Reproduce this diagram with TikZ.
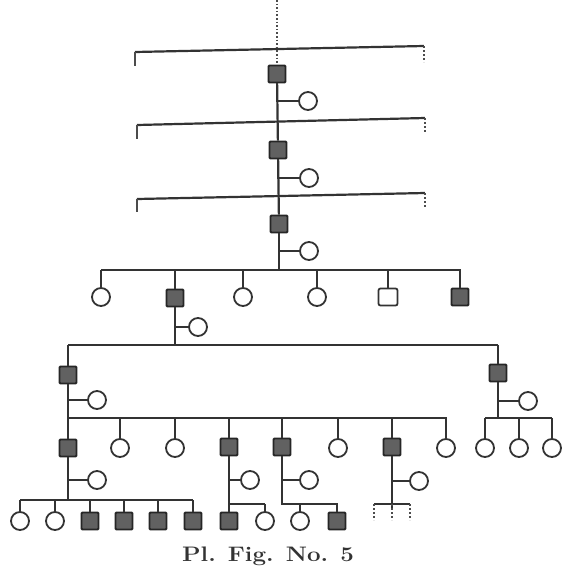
\documentclass[tikz,border=0pt]{standalone}
\begin{document}
\begin{tikzpicture}[x=1pt,y=-1pt,
  ln/.style={draw=black!80,line width=2.2pt},
  aff/.style={draw=black!85,fill=black!62,line width=1.8pt,minimum width=17pt,minimum height=17pt,inner sep=0pt,rounded corners=1pt},
  male/.style={draw=black!80,fill=white,line width=1.8pt,minimum width=19pt,minimum height=17pt,inner sep=0pt,rounded corners=2pt},
  fem/.style={circle,draw=black!80,fill=white,line width=1.8pt,minimum size=18pt,inner sep=0pt},
  tick/.style={draw=black!70,line width=1.8pt},
  dtick/.style={draw=black!70,line width=2pt,dotted}]
\useasboundingbox (0,0) rectangle (566,576);
% ancestral line with brackets
\coordinate (top) at (277,0);
\coordinate (b1l) at (135,52); \coordinate (b1r) at (424,46);
\coordinate (b2l) at (137,125); \coordinate (b2r) at (425,118);
\coordinate (b3l) at (137,199); \coordinate (b3r) at (425,193);
\draw[ln] (b1l) -- (b1r);
\draw[ln] (b2l) -- (b2r);
\draw[ln] (b3l) -- (b3r);
\draw[tick] (b1l) -- ++(0,14); \draw[dtick] (b1r) -- ++(0,16);
\draw[tick] (b2l) -- ++(0,14); \draw[dtick] (b2r) -- ++(0,14);
\draw[tick] (b3l) -- ++(0,13); \draw[dtick] (b3r) -- ++(0,15);
\node[aff] (g1) at (277,74) {};
\node[fem] (w1) at (308,101) {};
\node[aff] (g2) at (278,150) {};
\node[fem] (w2) at (309,178) {};
\node[aff] (g3) at (279,224) {};
\node[fem] (w3) at (309,251) {};
\draw[draw=black!70,line width=1.6pt,dotted] (top) -- (g1.north);
\draw[ln] (g1) -- (g2);
\draw[ln] (g2) -- (g3);
\draw[ln] (g1) |- (w1);
\draw[ln] (g2) |- (w2);
\draw[ln] (g3) |- (w3);
% generation of g3's children
\coordinate (s1l) at (101,270); \coordinate (s1r) at (461,270);
\draw[ln] (s1l) -- (s1r);
\draw[ln] (g3) -- (g3 |- s1l);
\node[fem] (c1) at (101,297) {};
\node[aff] (c2) at (175,298) {};
\node[fem] (c3) at (243,297) {};
\node[fem] (c4) at (317,297) {};
\node[male] (c5) at (388,297) {};
\node[aff] (c6) at (460,297) {};
\foreach \n in {c1,c2,c3,c4,c5,c6} \draw[ln] (\n.north) -- (\n.north |- s1l);
\node[fem] (w4) at (198,327) {};
\draw[ln] (c2) |- (w4);
\coordinate (s2l) at (68,345); \coordinate (s2r) at (498,345);
\draw[ln] (s2l) -- (s2r);
\draw[ln] (c2) -- (c2 |- s2l);
\node[aff] (d1) at (68,375) {};
\node[aff] (d2) at (498,373) {};
\foreach \n in {d1,d2} \draw[ln] (\n.north) -- (\n.north |- s2l);
\node[fem] (w5) at (97,400) {};
\node[fem] (w6) at (528,401) {};
\draw[ln] (d1) |- (w5);
\draw[ln] (d2) |- (w6);
% d1's children
\coordinate (s3l) at (68,418); \coordinate (s3r) at (447,418);
\draw[ln] (s3l) -- (s3r);
\draw[ln] (d1) -- (d1 |- s3l);
\node[aff] (e1) at (68,448) {};
\node[fem] (e2) at (120,448) {};
\node[fem] (e3) at (175,448) {};
\node[aff] (e4) at (229,447) {};
\node[aff] (e5) at (282,447) {};
\node[fem] (e6) at (338,448) {};
\node[aff] (e7) at (392,447) {};
\node[fem] (e8) at (446,448) {};
\foreach \n in {e1,e2,e3,e4,e5,e6,e7,e8} \draw[ln] (\n.north) -- (\n.north |- s3l);
% d2's children
\coordinate (s4l) at (485,418); \coordinate (s4r) at (552,418);
\draw[ln] (s4l) -- (s4r);
\draw[ln] (d2) -- (d2 |- s4l);
\node[fem] (f1) at (485,448) {};
\node[fem] (f2) at (519,448) {};
\node[fem] (f3) at (552,448) {};
\foreach \n in {f1,f2,f3} \draw[ln] (\n.north) -- (\n.north |- s4l);
% spouses of third row
\node[fem] (w7) at (97,480) {};
\node[fem] (w8) at (250,480) {};
\node[fem] (w9) at (309,480) {};
\node[fem] (w10) at (419,481) {};
\draw[ln] (e1) |- (w7);
\draw[ln] (e4) |- (w8);
\draw[ln] (e5) |- (w9);
\draw[ln] (e7) |- (w10);
% e1's children
\coordinate (s5l) at (20,500); \coordinate (s5r) at (193,500);
\draw[ln] (s5l) -- (s5r);
\draw[ln] (e1) -- (e1 |- s5l);
\node[fem] (h1) at (20,521) {};
\node[fem] (h2) at (55,521) {};
\node[aff] (h3) at (90,521) {};
\node[aff] (h4) at (124,521) {};
\node[aff] (h5) at (158,521) {};
\node[aff] (h6) at (193,521) {};
\foreach \n in {h1,h2,h3,h4,h5,h6} \draw[ln] (\n.north) -- (\n.north |- s5l);
% e4's children
\coordinate (s6r) at (265,504);
\node[aff] (k1) at (229,521) {};
\node[fem] (k2) at (265,521) {};
\draw[ln] (e4) -- (k1);
\draw[ln] (e4 |- s6r) -- (s6r);
\draw[ln] (k2.north) -- (k2.north |- s6r);
% e5's children
\coordinate (s7r) at (338,504);
\node[fem] (k3) at (300,521) {};
\node[aff] (k4) at (337,521) {};
\draw[ln] (e5) -- (e5 |- s7r) -- (s7r);
\foreach \n in {k3,k4} \draw[ln] (\n.north) -- (\n.north |- s7r);
% e7's unfinished line
\coordinate (s8l) at (374,504); \coordinate (s8r) at (410,504);
\coordinate (t1) at (374,520); \coordinate (t2) at (392,520); \coordinate (t3) at (410,520);
\draw[ln] (e7) -- (e7 |- s8l) -- ++(0,6);
\draw[ln] (s8l) -- (s8r);
\draw[dtick] (s8l) -- (t1);
\draw[dtick] (e7 |- s8l) -- (t2);
\draw[dtick] (s8r) -- (t3);
% caption
\node[font=\fontsize{21}{24}\selectfont\bfseries,text=black!80,xscale=1.15] (cap) at (268,556) {Pl. Fig. No. 5};
\end{tikzpicture}
\end{document}
